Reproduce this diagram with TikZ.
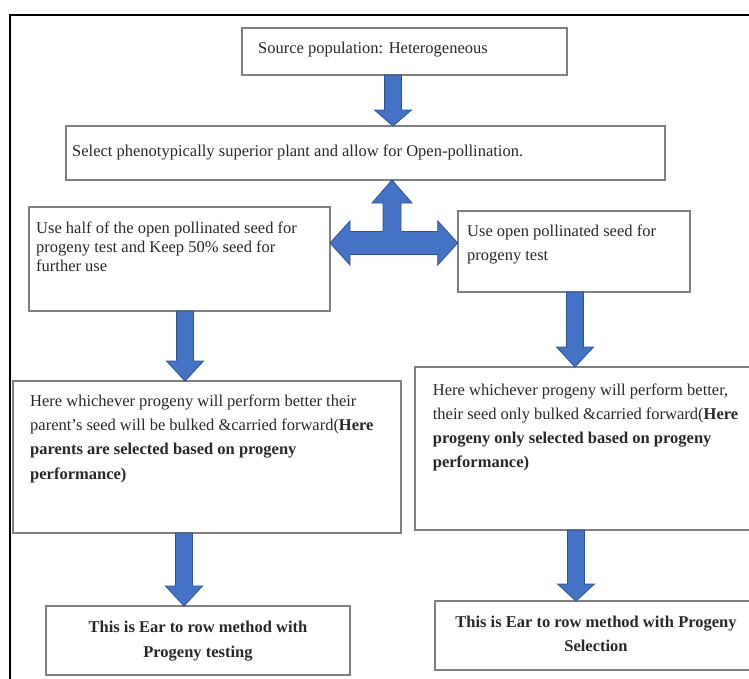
\documentclass[tikz,border=0pt]{standalone}
\usepackage{fontspec}
\setmainfont{Liberation Serif}
\usetikzlibrary{calc}

\definecolor{boxline}{RGB}{128,128,128}
\definecolor{arrowfill}{RGB}{68,114,196}
\definecolor{arrowedge}{RGB}{47,82,143}
\definecolor{ink}{RGB}{40,40,40}

% vertical block arrow: #1 start anchor, #2 end anchor (tip), #3 x position, #4 head length
\newcommand{\vblock}[4]{%
  \path[blockarrow] let \p1=(#1), \p2=(#2) in
    (#3-8.5,\y1) -- (#3+8.5,\y1) -- (#3+8.5,\y2+#4pt) -- (#3+18.5,\y2+#4pt)
    -- (#3,\y2) -- (#3-18.5,\y2+#4pt) -- (#3-8.5,\y2+#4pt) -- cycle;}

\begin{document}
\begin{tikzpicture}[x=1pt,y=-1pt,
  box/.style={draw=boxline, line width=1.8pt, rectangle, inner sep=0pt,
    outer sep=0pt, anchor=north west},
  txt/.style={inner sep=0pt, anchor=north west, align=left, text=ink,
    font=\fontsize{16.5}{#1}\selectfont},
  txt/.default=19,
  ctxt/.style={inner sep=0pt, anchor=north, align=center, text=ink,
    font=\fontsize{16.5}{#1}\selectfont\bfseries},
  blockarrow/.style={fill=arrowfill, draw=arrowedge, line width=0.8pt, line join=miter}]

\useasboundingbox (0,0) rectangle (749,678);
\clip (0,0) rectangle (749,678);

% outer frame
\draw[line width=2.6pt, black] (10,700) -- (10,15) -- (770,15);

% boxes
\node[box, minimum width=325.3pt, minimum height=47pt] (b1) at (241.7,28) {};
\node[box, minimum width=599pt, minimum height=54pt] (b2) at (66,126) {};
\node[box, minimum width=301pt, minimum height=104pt] (b3l) at (29,207) {};
\node[box, minimum width=232.3pt, minimum height=81pt] (b3r) at (457.7,211) {};
\node[box, minimum width=388pt, minimum height=152pt] (b4l) at (13,381) {};
\node[box, minimum width=337pt, minimum height=163pt] (b4r) at (415,367) {};
\node[box, minimum width=304pt, minimum height=69pt] (b5l) at (46,606) {};
\node[box, minimum width=322pt, minimum height=69pt] (b5r) at (435,601) {};

% texts
\node[txt] (t1) at ($(b1.north west)+(16.3,13.5)$) {Source population: Heterogeneous};
\node[txt] (t2) at ($(b2.north west)+(6,18.5)$)
  {Select phenotypically superior plant and allow for Open-pollination.};
\node[txt=19] (t3l) at ($(b3l.north west)+(7,14.5)$)
  {Use half of the open pollinated seed for\\progeny test and Keep 50\% seed for\\further use};
\node[txt=24] (t3r) at ($(b3r.north west)+(9.3,13.5)$)
  {Use open pollinated seed for\\progeny test};
\node[txt=24.3] (t4l) at ($(b4l.north west)+(17,13.5)$)
  {Here whichever progeny will perform better their\\
   parent’s seed will be bulked \&carried forward(\textbf{Here}\\
   \textbf{parents are selected based on progeny}\\
   \textbf{performance)}};
\node[txt=24] (t4r) at ($(b4r.north west)+(17.7,16.5)$)
  {Here whichever progeny will perform better,\\
   their seed only bulked \&carried forward(\textbf{Here}\\
   \textbf{progeny only selected based on progeny}\\
   \textbf{performance)}};
\node[ctxt=25] (t5l) at ($(b5l.north)+(0,14.5)$)
  {This is Ear to row method with\\Progeny testing};
\node[ctxt=24] (t5r) at ($(b5r.north)+(0,14.5)$)
  {This is Ear to row method with Progeny\\Selection};

% straight arrows
\vblock{b1.south}{b2.north}{393}{16}
\vblock{b3l.south}{b4l.north}{185}{20}
\vblock{b3r.south}{b4r.north}{575}{20}
\vblock{b4l.south}{b5l.north}{184}{20}
\vblock{b4r.south}{b5r.north}{576}{17}

% three-headed arrow below the selection box
\path[blockarrow] let \p1=(b2.south), \p2=(b3l.east), \p3=(b3r.west) in
  (392,\y1) -- (412,\y1-23pt) -- (401,\y1-23pt) -- (401,231.5)
  -- (\x3-20pt,231.5) -- (\x3-20pt,221) -- (\x3,243) -- (\x3-20pt,265)
  -- (\x3-20pt,254.5) -- (\x2+20pt,254.5) -- (\x2+20pt,265) -- (\x2,243)
  -- (\x2+20pt,221) -- (\x2+20pt,231.5) -- (383,231.5)
  -- (383,\y1-23pt) -- (372,\y1-23pt) -- cycle;

\end{tikzpicture}
\end{document}
